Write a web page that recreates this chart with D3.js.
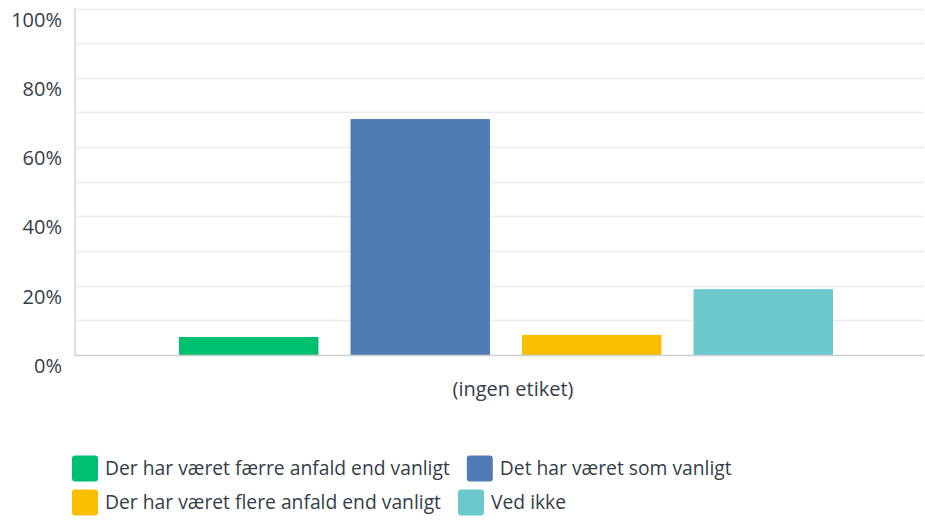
<!DOCTYPE html>
<html>
<head>
<meta charset="utf-8">
<script src="https://cdn.jsdelivr.net/npm/d3@7"></script>
<style>
  body { margin: 0; background: #fff; }
  svg { display: block; font-family: "Open Sans", "Roboto", sans-serif; }
</style>
</head>
<body>
<div id="chart"></div>
<script>
// Data
const categories = ["(ingen etiket)"];
const seriesNames = [
    "Der har været færre anfald end vanligt",
    "Det har været som vanligt",
    "Der har været flere anfald end vanligt",
    "Ved ikke"
];
const seriesValues = [5.2, 68.1, 5.8, 19.0];
const seriesColors = ["#00bf6f", "#507cb6", "#f9be00", "#6bc8cd"];
const yTicks = [0, 20, 40, 60, 80, 100];
const gridTicks = [0, 10, 20, 30, 40, 50, 60, 70, 80, 90, 100];

const width = 925, height = 521;
const margin = { top: 8.5, right: 1, bottom: 166, left: 75 };

const svg = d3.select("#chart")
    .append("svg")
    .attr("width", width)
    .attr("height", height);

const y = d3.scaleLinear()
    .domain([0, 100])
    .range([height - margin.bottom, margin.top]);

const x0 = d3.scaleBand()
    .domain(categories)
    .range([margin.left, width - margin.right]);

const x1 = d3.scaleBand()
    .domain(seriesNames)
    .range([179 - x0(categories[0]), 833 - x0(categories[0])])
    .paddingInner(0.187);

// gridlines
svg.append("g")
    .selectAll("line")
    .data(gridTicks.filter(d => d > 0))
    .enter()
    .append("line")
    .attr("x1", margin.left)
    .attr("x2", width - margin.right)
    .attr("y1", d => Math.round(y(d)) + 0.5)
    .attr("y2", d => Math.round(y(d)) + 0.5)
    .attr("stroke", "#ececec")
    .attr("stroke-width", 1.5);

// y axis labels
svg.append("g")
    .selectAll("text")
    .data(yTicks)
    .enter()
    .append("text")
    .attr("x", 62)
    .attr("y", d => y(d) + 11)
    .attr("dy", "0.35em")
    .attr("text-anchor", "end")
    .attr("font-size", 20)
    .attr("fill", "#333e48")
    .text(d => d + "%");

// bars
svg.append("g")
    .selectAll("rect")
    .data(seriesNames.map((s, i) => ({ name: s, value: seriesValues[i], color: seriesColors[i] })))
    .enter()
    .append("rect")
    .attr("x", d => x0(categories[0]) + x1(d.name))
    .attr("width", x1.bandwidth())
    .attr("y", d => y(d.value))
    .attr("height", d => y(0) - y(d.value))
    .attr("fill", d => d.color);

// axes lines
svg.append("line")
    .attr("x1", margin.left).attr("x2", margin.left)
    .attr("y1", margin.top).attr("y2", y(0) + 1)
    .attr("stroke", "#d6d6d6").attr("stroke-width", 1.5);
svg.append("line")
    .attr("x1", margin.left).attr("x2", width - margin.right)
    .attr("y1", y(0) + 0.5).attr("y2", y(0) + 0.5)
    .attr("stroke", "#d0d0d0").attr("stroke-width", 1.5);

// category label
svg.append("text")
    .attr("x", 513)
    .attr("y", 389)
    .attr("dy", "0.35em")
    .attr("text-anchor", "middle")
    .attr("font-size", 20)
    .attr("fill", "#333e48")
    .text(categories[0]);

// legend, flowing left to right and wrapping
const legend = svg.append("g");
const legendStart = 72, legendMax = 925, rowH = 34, firstRowY = 468.5;
let lx = legendStart, row = 0;
seriesNames.forEach((name, i) => {
    const g = legend.append("g");
    const t = g.append("text")
        .attr("x", 33)
        .attr("dy", "0.35em")
        .attr("font-size", 19.3)
        .attr("fill", "#333e48")
        .text(name);
    const w = 33 + t.node().getComputedTextLength();
    if (lx + w > legendMax && lx > legendStart) {
        lx = legendStart;
        row += 1;
    }
    g.append("rect")
        .attr("x", 0).attr("y", -13)
        .attr("width", 26).attr("height", 26)
        .attr("rx", 3)
        .attr("fill", seriesColors[i]);
    g.attr("transform", `translate(${lx},${firstRowY + row * rowH})`);
    lx += w + 17;
});
</script>
</body>
</html>
